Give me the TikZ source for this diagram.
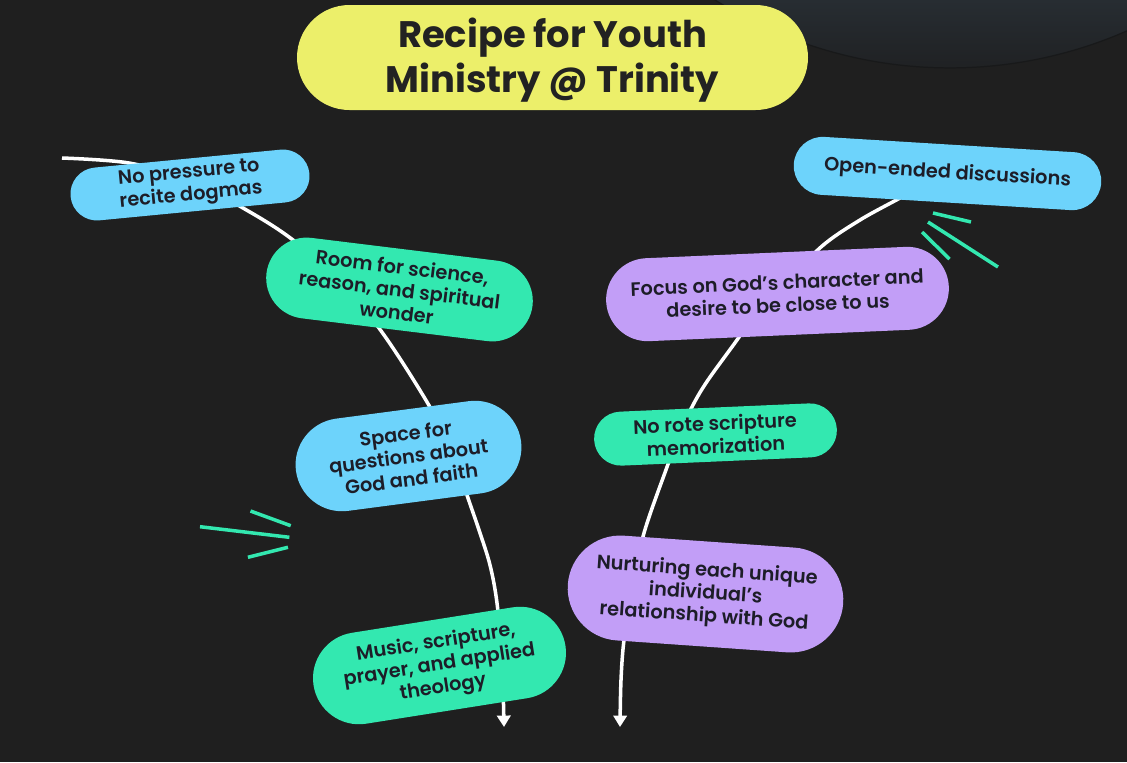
\documentclass[tikz,border=0pt]{standalone}
\usepackage{fontspec}
\setmainfont{Poppins}
\newfontfamily\pillfont{Poppins SemiBold}
\newfontfamily\titlefont{Poppins Bold}
\usetikzlibrary{shapes.misc,arrows.meta}
\definecolor{bgc}{HTML}{1F1F1F}
\definecolor{arctop}{HTML}{272D32}
\definecolor{arcbot}{HTML}{1F2022}
\definecolor{arcline}{HTML}{18191A}
\definecolor{pblue}{HTML}{6DD3FB}
\definecolor{pgreen}{HTML}{33E8B0}
\definecolor{ppurple}{HTML}{C29EF7}
\definecolor{pyellow}{HTML}{ECEF6A}
\definecolor{ink}{HTML}{1D1D28}
\definecolor{titleink}{HTML}{222222}
\pgfdeclarelayer{bglayer}
\pgfdeclarelayer{curves}
\pgfsetlayers{bglayer,curves,main}
\begin{document}
\begin{tikzpicture}[x=0.02cm,y=-0.02cm,
  pill/.style n args={3}{rounded rectangle, fill=#1, minimum width=#2*0.02cm,
    minimum height=#3*0.02cm, inner sep=0pt, align=center, text=ink,
    font=\pillfont\fontsize{11}{13}\selectfont},
  flow/.style={draw=white, line width=2pt, -{Triangle[width=7.6pt,length=6.5pt]}},
  spark/.style={draw=pgreen, line width=2pt}]
\useasboundingbox (0,0) rectangle (1127,762);
\begin{pgfonlayer}{bglayer}
  \fill[bgc] (0,0) rectangle (1127,762);
  \begin{scope}
    \clip (0,0) rectangle (1127,762);
    \begin{scope}
      \clip (950,-372) circle[radius=8.8cm];
      \shade[top color=arctop, bottom color=arcbot] (700,0) rectangle (1127,75);
    \end{scope}
    \draw[arcline, line width=0.7pt] (950,-372) circle[radius=8.8cm];
  \end{scope}
\end{pgfonlayer}

% nodes
\node[pill={pyellow}{511}{105}, text=titleink,
      font=\titlefont\fontsize{21}{25.5}\selectfont] (title) at (552.5,57.5)
      {\raisebox{-2.2pt}[\height][\depth]{\begin{tabular}{@{}c@{}}Recipe for Youth\\Ministry @ Trinity\end{tabular}}};
\node[pill={pblue}{240}{53}, rotate=5.5] (nopress) at (190,185)
      {No pressure to\\recite dogmas};
\node[pill={pgreen}{268}{81}, rotate=-7] (room) at (399.5,289.5)
      {Room for science,\\reason, and spiritual\\wonder};
\node[pill={pblue}{227}{93}, rotate=7.5] (space) at (408.5,456)
      {Space for\\questions about\\God and faith};
\node[pill={pgreen}{255}{92}, rotate=9] (music) at (439.5,665.5)
      {Music, scripture,\\prayer, and applied\\theology};
\node[pill={pblue}{308}{58}, rotate=-3.5] (open) at (947.5,173.5)
      {Open-ended discussions};
\node[pill={ppurple}{343}{83}, rotate=2.5] (focus) at (777.5,294)
      {Focus on God’s character and\\desire to be close to us};
\node[pill={pgreen}{243}{54}, rotate=2.5] (norote) at (715.5,434.5)
      {No rote scripture\\memorization};
\node[pill={ppurple}{276}{105}, rotate=-4] (nurture) at (705.5,594)
      {Nurturing each unique\\individual’s\\relationship with God};

% curve coordinates
\coordinate (lstart) at (62,158);
\coordinate (lend) at (504,727);
\coordinate (rstart) at (915,189);
\coordinate (rend) at (620,727);

\begin{pgfonlayer}{curves}
  \draw[flow] plot[smooth, tension=0.55] coordinates {(lstart) (129,163) (190,180)
    (243,208) (289,237) (340,280) (384,335) (427,402) (452,450) (468,498)
    (479,530) (490,565) (497,603) (502,660) (lend)};
  \draw[flow] plot[smooth, tension=0.55] coordinates {(rstart) (900,198) (860,220)
    (821,247) (780,290) (752,318) (737,340) (708,380) (693,405) (678,437)
    (667,467) (644,533) (632,590) (624,640) (621,680) (rend)};
\end{pgfonlayer}

% sparks
\draw[spark] (250.5,511) -- (290.7,525.7);
\draw[spark] (200,526.7) -- (289.4,537.3);
\draw[spark] (247.9,557.3) -- (288,547.3);
\draw[spark] (933,213) -- (971,222);
\draw[spark] (928,222) -- (998,267);
\draw[spark] (922,232) -- (949.5,259);
\end{tikzpicture}
\end{document}
